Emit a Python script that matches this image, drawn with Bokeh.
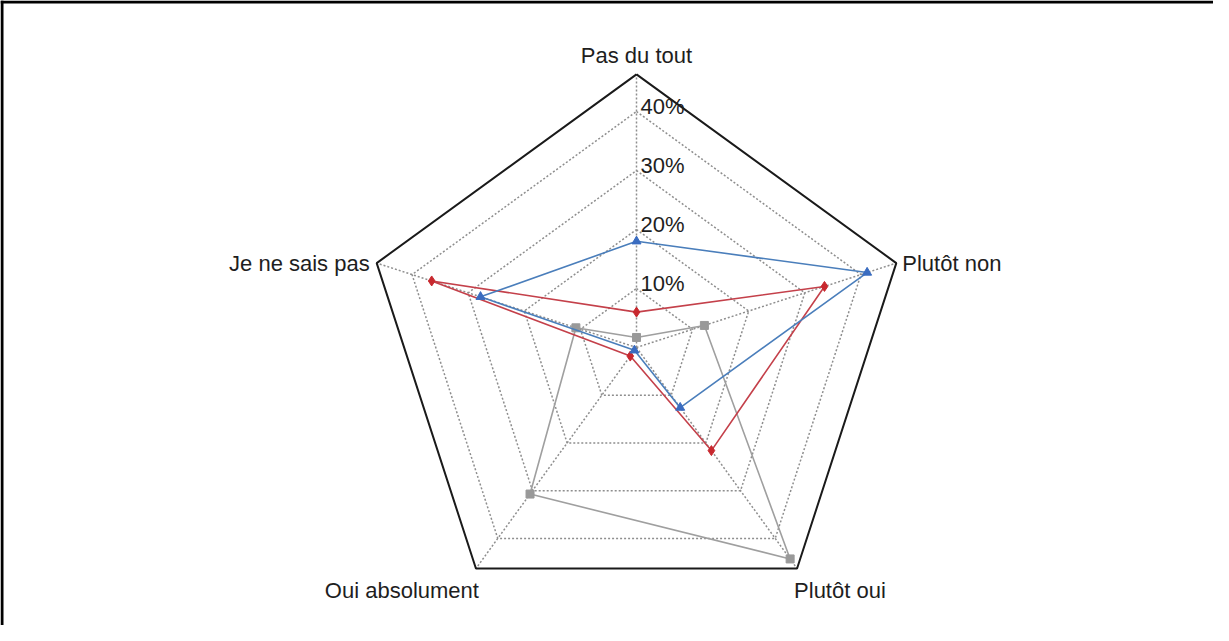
import numpy as np
from bokeh.plotting import figure
from bokeh.models import Range1d, Span
from bokeh.core.properties import value
from bokeh.embed import file_html
from bokeh.resources import INLINE

# ---------------- data ----------------
categories = ["Pas du tout", "Plutôt non", "Plutôt oui", "Oui absolument", "Je ne sais pas"]
blue_vals = [18.0, 41.1, 12.6, 0.6, 27.8]
red_vals = [6.0, 33.5, 21.6, 1.8, 36.5]
grey_vals = [1.7, 12.1, 44.3, 30.7, 10.8]
ring_levels = [10, 20, 30, 40]
tick_labels = ["10%", "20%", "30%", "40%"]
axis_max = 46.3

# ---------------- layout ----------------
W, H = 1213, 625
S = 5.9            # pixels per percent
CX, CY = 636, 347  # center in figure pixels
FONT = value("Liberation Sans")

p = figure(width=W, height=H, output_backend="svg", toolbar_location=None,
           x_range=Range1d(-CX / S, (W - CX) / S),
           y_range=Range1d(-(H - CY) / S, CY / S))
p.axis.visible = False
p.grid.visible = False
p.outline_line_color = None
p.min_border = 0
p.background_fill_color = "white"
p.border_fill_color = "white"

n = len(categories)
theta = np.deg2rad(90 - 72 * np.arange(n))
cs, sn = np.cos(theta), np.sin(theta)

def poly(vals):
    v = np.asarray(vals, dtype=float)
    xs = list(v * cs) + [v[0] * cs[0]]
    ys = list(v * sn) + [v[0] * sn[0]]
    return xs, ys

# frame (top and left)
p.add_layout(Span(location=-CX / S + 1.5 / S, dimension="height", line_color="black", line_width=3))
p.add_layout(Span(location=CY / S - 1.5 / S, dimension="width", line_color="black", line_width=3))

GRID = "#8e8e8e"
# grid rings
for lv in ring_levels:
    xs, ys = poly([lv] * n)
    p.line(xs, ys, line_color=GRID, line_width=1.5, line_dash="2 2")
# spokes
for k in range(n):
    p.line([0, axis_max * cs[k]], [0, axis_max * sn[k]], line_color=GRID,
           line_width=1.5, line_dash="2 2")
# outer ring
xs, ys = poly([axis_max] * n)
p.line(xs, ys, line_color="#1a1a1a", line_width=2)

# series
series = [
    (grey_vals, "#9f9f9f", "#999999", "square", 8),
    (red_vals, "#c4404a", "#c8282e", "diamond", 10),
    (blue_vals, "#4a7ebb", "#3a6cc0", "triangle", 9),
]
for vals, lc, mc, mk, sz in series:
    xs, ys = poly(vals)
    p.line(xs, ys, line_color=lc, line_width=1.6)
    p.scatter(xs[:-1], ys[:-1], marker=mk, size=sz, fill_color=mc, line_color=mc)

# tick labels
p.text(x=[0] * len(ring_levels), y=ring_levels, text=tick_labels,
       text_font=FONT, text_font_size="22px", text_color="#1e1e1e",
       text_align="left", text_baseline="middle", x_offset=4, y_offset=-5)

# category labels
label_style = [
    ("center", "bottom", 0, -6),
    ("left", "middle", 6, 0),
    ("left", "top", -3, 10),
    ("right", "top", 3, 10),
    ("right", "middle", -7, 0),
]
for k, name in enumerate(categories):
    al, bl, xo, yo = label_style[k]
    p.text(x=[axis_max * cs[k]], y=[axis_max * sn[k]], text=[name],
           text_font=FONT, text_font_size="22px", text_color="#1e1e1e",
           text_align=al, text_baseline=bl, x_offset=xo, y_offset=yo)

open("out.html", "w").write(file_html(p, INLINE))
